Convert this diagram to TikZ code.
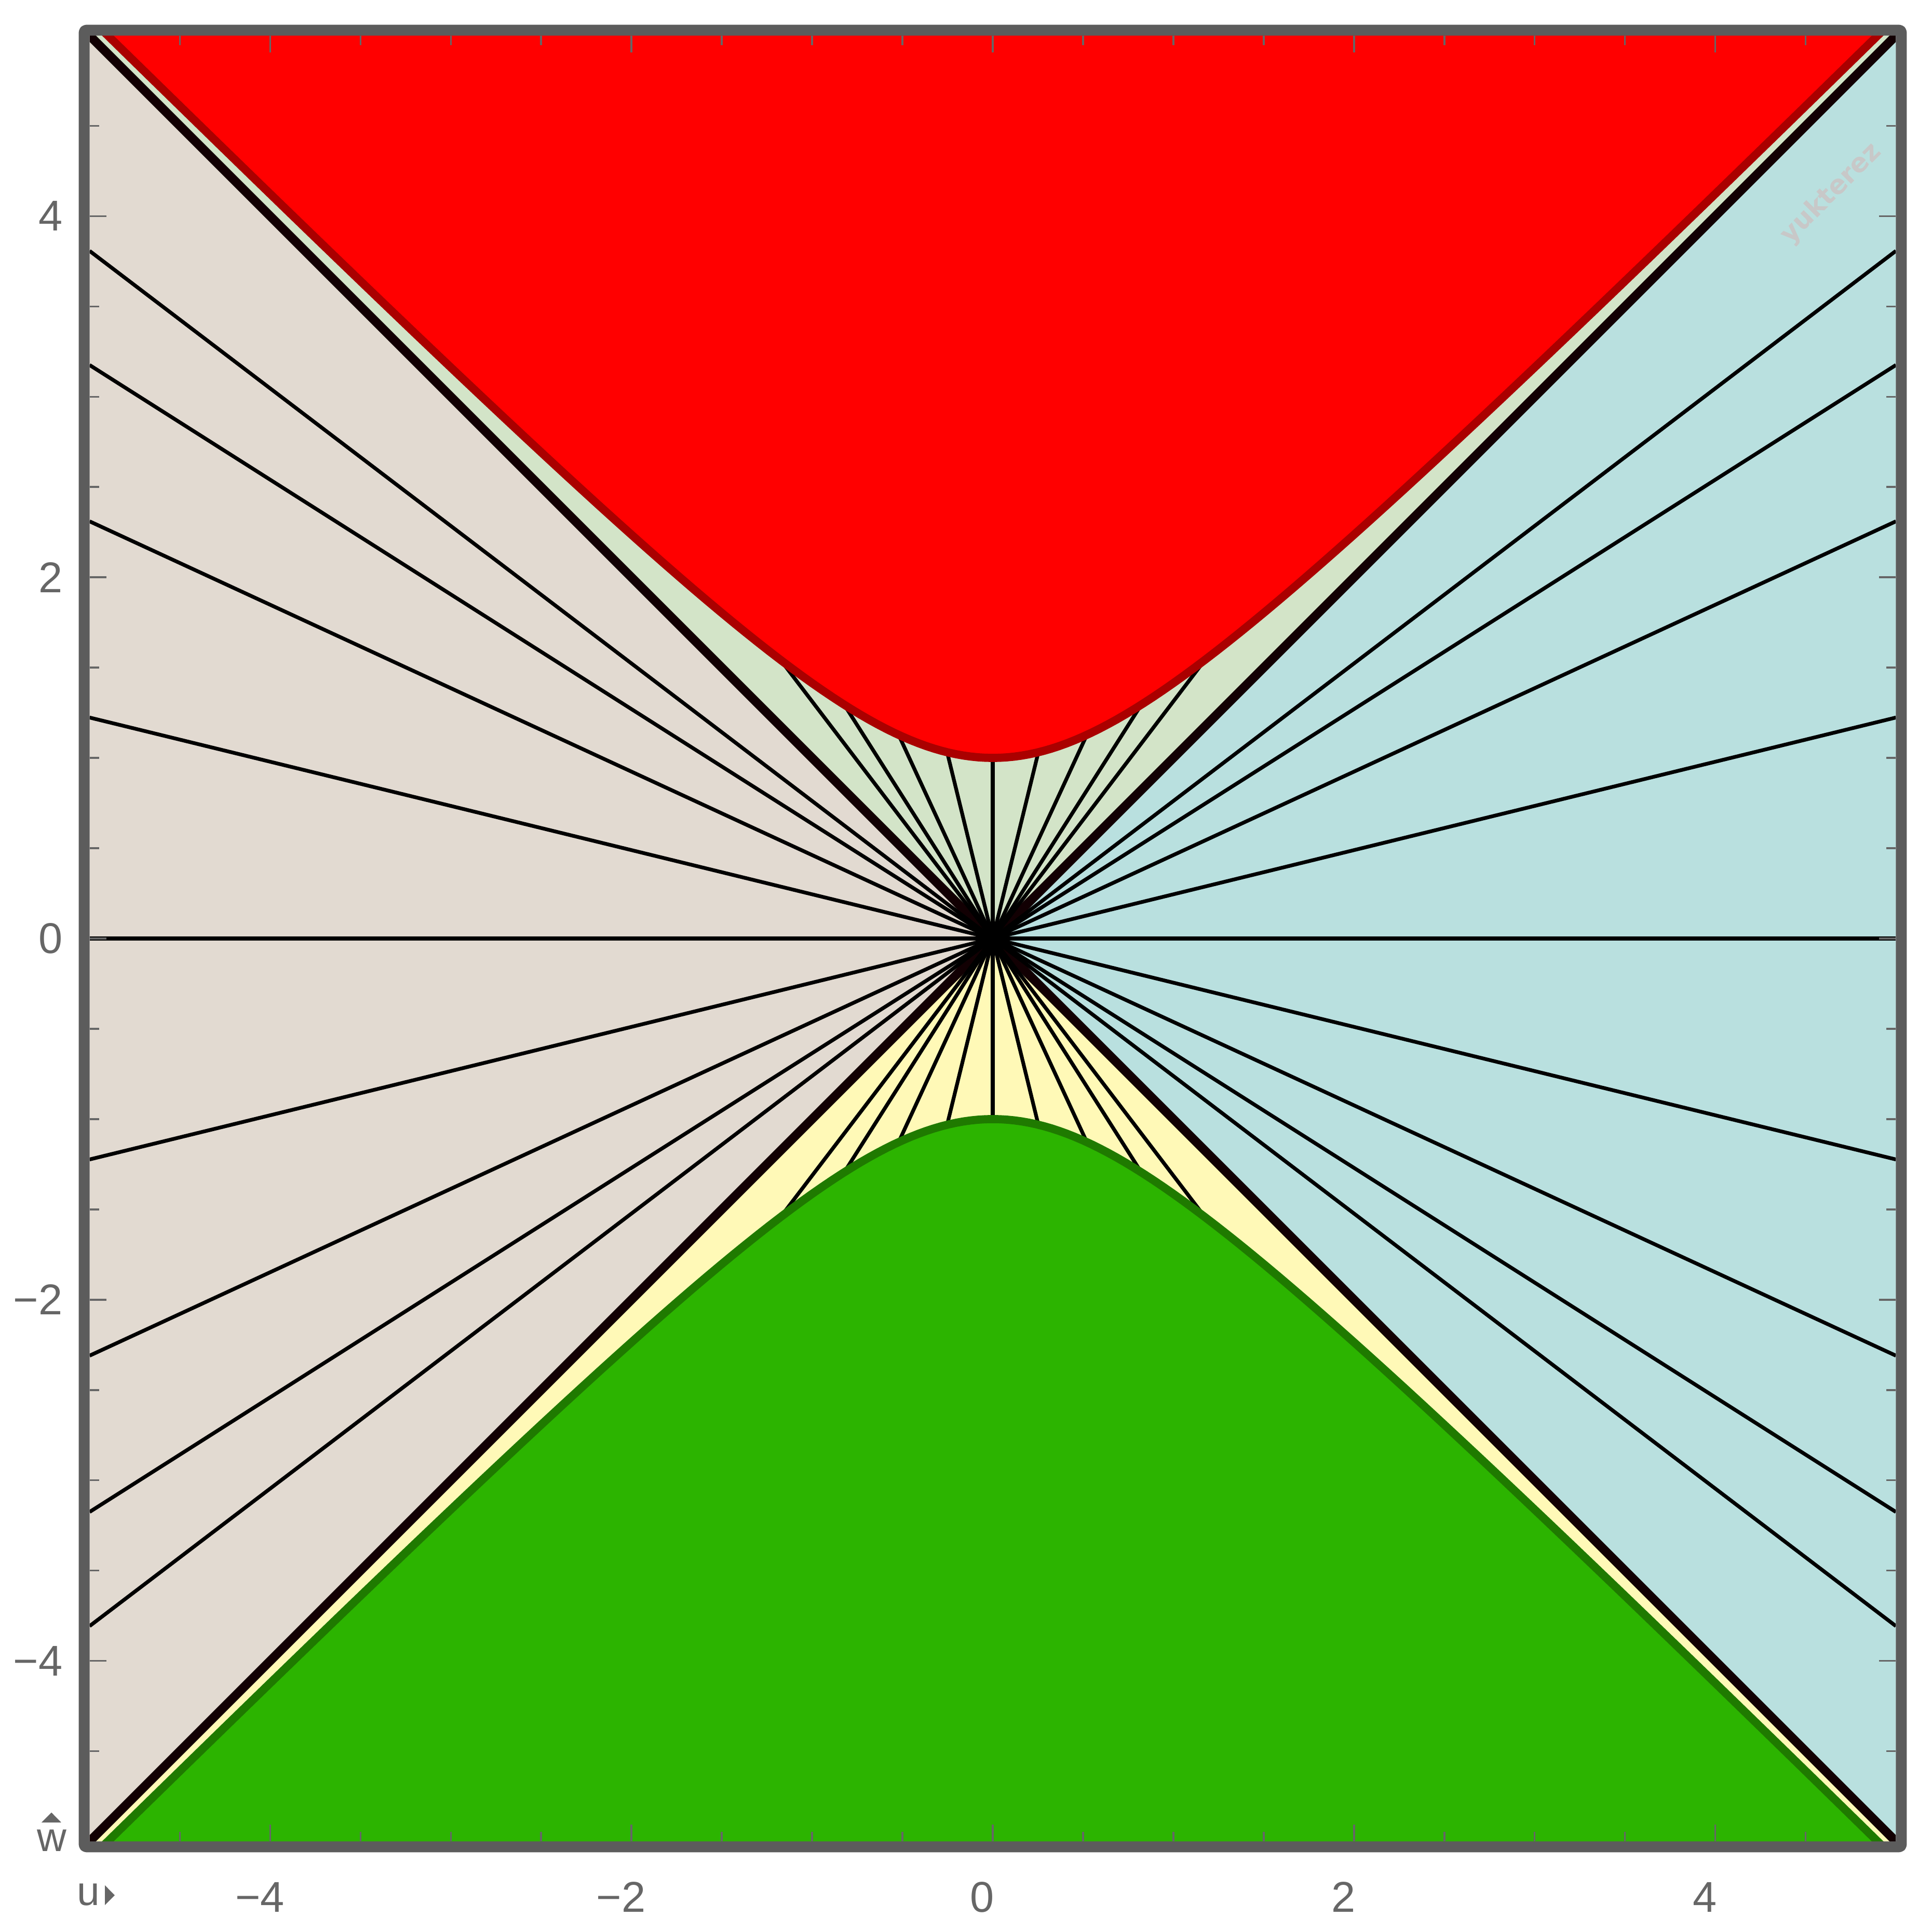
\documentclass[tikz,border=0pt]{standalone}
\usepackage{fontspec}
\setmainfont{Liberation Sans}
\newfontfamily\markfont{DejaVu Sans}
\usepackage{xcolor}
\usepackage{tikz}
\usetikzlibrary{calc}
\definecolor{spaceL}{HTML}{E2DAD1}
\definecolor{spaceR}{HTML}{B9E0DF}
\definecolor{futureC}{HTML}{D3E4C8}
\definecolor{pastC}{HTML}{FFF9B7}
\definecolor{hypRed}{HTML}{FF0000}
\definecolor{hypRedDk}{HTML}{AA0000}
\definecolor{hypGrn}{HTML}{2CB400}
\definecolor{hypGrnDk}{HTML}{1F7A00}
\definecolor{coneBlk}{HTML}{120003}
\definecolor{frameGray}{HTML}{5C5C5C}
\definecolor{tickGray}{HTML}{666666}
\definecolor{wmGray}{HTML}{C8C8C8}

\begin{document}
\begin{tikzpicture}[x=1.4cm,y=1.4cm,
  ray/.style={black,line width=0.82pt},
  cone/.style={coneBlk,line width=1.95pt},
  shell/.style={draw=#1,line width=1.8pt},
  tk/.style={tickGray,line width=0.41pt},
  tlab/.style={font=\fontsize{9.5}{11}\selectfont,text=tickGray,inner sep=0pt},
  alab/.style={font=\fontsize{9}{11}\selectfont,text=tickGray,inner sep=0pt,anchor=base}]
  \useasboundingbox (-5.496,-5.496) rectangle (5.197,5.197);
  \coordinate (o) at (0,0);
  \begin{scope}
    \clip (-5,-5) rectangle (5,5);
    % the four wedges
    \fill[spaceL] (o) -- (-5,5) -- (-5,-5) -- cycle;
    \fill[spaceR] (o) -- (5,5) -- (5,-5) -- cycle;
    \fill[futureC] (o) -- (-5,5) -- (5,5) -- cycle;
    \fill[pastC] (o) -- (-5,-5) -- (5,-5) -- cycle;
    % light cone
    \draw[cone] (-5,-5) -- (5,5);
    \draw[cone] (-5,5) -- (5,-5);
    % rays of equal rapidity
    \foreach \k in {-4,...,4} {
      \draw[ray] (o) -- (5,{5*tanh(\k/4)});
      \draw[ray] (o) -- (-5,{5*tanh(\k/4)});
      \draw[ray] (o) -- ({sinh(\k/4)},{cosh(\k/4)});
      \draw[ray] (o) -- ({sinh(\k/4)},{-cosh(\k/4)});
    }
    % hyperbolae
    \fill[hypRed] plot[domain=-2.4:2.4,samples=121] ({sinh(\x)},{cosh(\x)}) -- (6,6) -- (-6,6) -- cycle;
    \draw[shell=hypRedDk] plot[domain=-2.4:2.4,samples=121] ({sinh(\x)},{cosh(\x)});
    \fill[hypGrn] plot[domain=-2.4:2.4,samples=121] ({sinh(\x)},{-cosh(\x)}) -- (6,-6) -- (-6,-6) -- cycle;
    \draw[shell=hypGrnDk] plot[domain=-2.4:2.4,samples=121] ({sinh(\x)},{-cosh(\x)});
    \node[rotate=45,text=wmGray,inner sep=0pt,font=\markfont\bfseries\fontsize{5.8}{7}\selectfont] (wm) at (4.642,4.125) {yukterez};
  \end{scope}
  % ticks
  \foreach \t in {-4.5,-3.5,-3,-2.5,-1.5,-1,-0.5,0.5,1,1.5,2.5,3,3.5,4.5} {
    \draw[tk] (\t,-5) -- ++(0,0.052);
    \draw[tk] (\t,5) -- ++(0,-0.052);
    \draw[tk] (-5,\t) -- ++(0.052,0);
    \draw[tk] (5,\t) -- ++(-0.052,0);
  }
  \foreach \t in {-4,-2,0,2,4} {
    \draw[tk] (\t,-5) -- ++(0,0.092);
    \draw[tk] (\t,5) -- ++(0,-0.092);
    \draw[tk] (-5,\t) -- ++(0.092,0);
    \draw[tk] (5,\t) -- ++(-0.092,0);
  }
  \draw[frameGray,line width=2.4pt,rounded corners=0.5pt,line join=round] (-5.03,-5.03) rectangle (5.03,5.03);
  % tick labels
  \foreach \v/\s in {-4/−4,-2/−2,0/0,2/2,4/4} {
    \node[tlab] (bx\v) at (\v-0.0575,-5.309) {\s};
    \node[tlab,anchor=east] (ly\v) at (-5.145,\v) {\s};
  }
  % axis labels
  \node[alab] (wlab) at (-5.208,-5.056) {w};
  \fill[tickGray] (-5.266,-4.895) -- (-5.211,-4.840) -- (-5.157,-4.895) -- cycle;
  \node[alab] (ulab) at (-5.007,-5.355) {u};
  \fill[tickGray] (-4.915,-5.243) -- (-4.861,-5.298) -- (-4.915,-5.352) -- cycle;
\end{tikzpicture}
\end{document}
